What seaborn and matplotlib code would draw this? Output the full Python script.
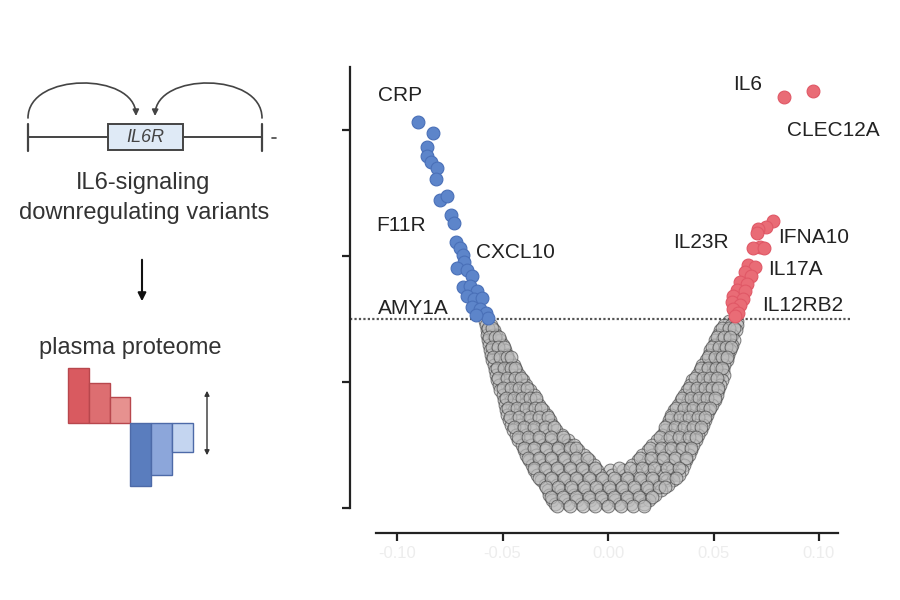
import matplotlib.pyplot as plt
import seaborn as sns
import pandas as pd
from matplotlib.patches import FancyArrowPatch, Rectangle
from matplotlib.path import Path

sns.set_style('ticks')
plt.rcParams['font.family'] = ['Liberation Sans', 'DejaVu Sans']

# proteins lowered by the IL6R variants (beta, -log10 p)
blue_beta = [-0.0900, -0.0829, -0.0858, -0.0858, -0.0839, -0.0810, -0.0815, -0.0796,
             -0.0763, -0.0744, -0.0730, -0.0720, -0.0701, -0.0687, -0.0683, -0.0716,
             -0.0668, -0.0645, -0.0687, -0.0654, -0.0621, -0.0668, -0.0635, -0.0597,
             -0.0645, -0.0607, -0.0578, -0.0569, -0.0626]
blue_logp = [6.13, 5.95, 5.73, 5.59, 5.49, 5.40, 5.22, 4.89,
             4.95, 4.65, 4.52, 4.22, 4.13, 4.02, 3.90, 3.81,
             3.78, 3.68, 3.51, 3.52, 3.44, 3.37, 3.32, 3.33,
             3.19, 3.16, 3.10, 3.02, 3.06]

# proteins raised
red_beta = [0.0834, 0.0972, 0.0782, 0.0749, 0.0711, 0.0706, 0.0720, 0.0687,
            0.0739, 0.0664, 0.0697, 0.0649, 0.0678, 0.0626, 0.0659, 0.0611,
            0.0649, 0.0593, 0.0640, 0.0588, 0.0626, 0.0593, 0.0616, 0.0602]
red_logp = [6.52, 6.62, 4.56, 4.46, 4.43, 4.37, 4.14, 4.13,
            4.13, 3.86, 3.83, 3.75, 3.68, 3.59, 3.56, 3.46,
            3.44, 3.37, 3.32, 3.27, 3.22, 3.16, 3.10, 3.05]

# the rest, read row by row from the V
gray_logp = [2.97, 2.90, 2.82, 2.75, 2.67, 2.59, 2.51, 2.43, 2.35, 2.27, 2.19, 2.11,
             2.03, 1.95, 1.87, 1.79, 1.71, 1.63, 1.55, 1.48, 1.40, 1.32, 1.24, 1.16,
             1.08, 1.00, 0.92, 0.84, 0.76, 0.68, 0.60, 0.52, 0.44, 0.37, 0.29, 0.21,
             0.13, 0.06]
gray_beta = [
    [-0.0585, 0.0575, 0.061],
    [-0.058, -0.0555, 0.055, 0.0585, 0.061],
    [-0.0575, -0.054, 0.053, 0.057, 0.0605],
    [-0.0575, -0.0545, -0.053, 0.052, 0.0555, 0.059],
    [-0.057, -0.0535, -0.051, 0.0505, 0.054, 0.0575, 0.0595],
    [-0.0565, -0.053, -0.050, 0.050, 0.053, 0.056, 0.059],
    [-0.056, -0.0525, -0.049, 0.0485, 0.052, 0.0555, 0.058],
    [-0.0555, -0.052, -0.048, 0.048, 0.051, 0.054, 0.057],
    [-0.055, -0.051, -0.047, 0.0465, 0.050, 0.0535, 0.0565],
    [-0.054, -0.050, -0.0465, -0.0445, 0.0445, 0.048, 0.0515, 0.055],
    [-0.0535, -0.0495, -0.046, -0.0435, 0.0435, 0.047, 0.0505, 0.0545],
    [-0.053, -0.049, -0.0455, -0.042, 0.042, 0.0455, 0.049, 0.0525, 0.055],
    [-0.0525, -0.0485, -0.0445, -0.0405, 0.040, 0.044, 0.0475, 0.051, 0.054],
    [-0.0515, -0.048, -0.044, -0.0405, -0.039, 0.039, 0.0425, 0.046, 0.0495, 0.053],
    [-0.051, -0.047, -0.0435, -0.040, -0.037, 0.0375, 0.041, 0.045, 0.0485, 0.052],
    [-0.050, -0.0465, -0.043, -0.039, -0.035, 0.036, 0.0395, 0.0435, 0.047, 0.0515],
    [-0.0495, -0.046, -0.042, -0.038, -0.034, 0.0345, 0.038, 0.042, 0.046, 0.0505],
    [-0.049, -0.0455, -0.041, -0.0365, -0.0325, 0.033, 0.037, 0.041, 0.045, 0.0495],
    [-0.0485, -0.0445, -0.040, -0.0355, -0.031, 0.0315, 0.0355, 0.0395, 0.044, 0.048],
    [-0.048, -0.044, -0.039, -0.034, -0.029, 0.030, 0.034, 0.0385, 0.043, 0.047],
    [-0.047, -0.043, -0.038, -0.033, -0.0275, 0.029, 0.033, 0.037, 0.0415, 0.046],
    [-0.046, -0.0415, -0.0365, -0.0315, -0.0265, 0.028, 0.032, 0.0365, 0.041, 0.045],
    [-0.045, -0.0405, -0.0355, -0.030, -0.0245, 0.027, 0.031, 0.035, 0.0395, 0.044],
    [-0.0435, -0.039, -0.034, -0.0285, -0.022, 0.0255, 0.030, 0.034, 0.0385, 0.0425],
    [-0.0425, -0.038, -0.0325, -0.027, -0.021, -0.019, 0.023, 0.028, 0.033, 0.0375, 0.0415],
    [-0.041, -0.0365, -0.031, -0.025, -0.019, -0.016, 0.021, 0.026, 0.031, 0.036, 0.0405],
    [-0.040, -0.0355, -0.030, -0.024, -0.018, -0.014, 0.019, 0.024, 0.029, 0.034, 0.0395],
    [-0.039, -0.034, -0.028, -0.022, -0.016, -0.0115, 0.016, 0.021, 0.027, 0.0325, 0.0385],
    [-0.0375, -0.0325, -0.0265, -0.0205, -0.0145, -0.009, 0.014, 0.019, 0.025, 0.031, 0.037],
    [-0.036, -0.031, -0.025, -0.019, -0.013, -0.0065, 0.0115, 0.017, 0.023, 0.029, 0.036],
    [-0.035, -0.0295, -0.0235, -0.0175, -0.0115, -0.005, 0.001, 0.007, 0.013, 0.019,
     0.025, 0.0305, 0.035],
    [-0.0335, -0.028, -0.022, -0.016, -0.010, -0.004, 0.002, 0.008, 0.014, 0.020,
     0.026, 0.031, 0.0335],
    [-0.032, -0.026, -0.020, -0.014, -0.008, -0.002, 0.004, 0.010, 0.016, 0.022, 0.028, 0.031],
    [-0.030, -0.024, -0.018, -0.012, -0.006, 0.000, 0.006, 0.012, 0.018, 0.024, 0.0285],
    [-0.0285, -0.0225, -0.0165, -0.0105, -0.0045, 0.0015, 0.0075, 0.0135, 0.0195, 0.025],
    [-0.028, -0.022, -0.016, -0.010, -0.004, 0.002, 0.008, 0.014, 0.020, 0.0225],
    [-0.0265, -0.0205, -0.0145, -0.0085, -0.0025, 0.0035, 0.0095, 0.0155, 0.0195],
    [-0.025, -0.019, -0.013, -0.007, -0.001, 0.005, 0.011, 0.017],
]
# second pass over the same cloud, between the rows above
gray_logp_b = [2.86, 2.71, 2.55, 2.39, 2.23, 2.07, 1.91, 1.75, 1.59, 1.44, 1.28, 1.12,
               0.96, 0.80, 0.64, 0.48, 0.33, 0.17, 0.03]
gray_beta_b = [
    [-0.0568, -0.0548, 0.0540, 0.0572, 0.0598],
    [-0.0562, -0.0538, -0.0518, 0.0515, 0.0548, 0.0580],
    [-0.0552, -0.0520, -0.0495, 0.0495, 0.0528, 0.0560, 0.0582],
    [-0.0545, -0.0510, -0.0478, -0.0462, 0.0472, 0.0505, 0.0538, 0.0562],
    [-0.0528, -0.0492, -0.0458, -0.0440, 0.0440, 0.0475, 0.0510, 0.0538],
    [-0.0520, -0.0480, -0.0442, -0.0412, 0.0412, 0.0448, 0.0482, 0.0518],
    [-0.0500, -0.0462, -0.0422, -0.0385, 0.0385, 0.0420, 0.0458, 0.0495, 0.0520],
    [-0.0485, -0.0448, -0.0408, -0.0368, -0.0342, 0.0352, 0.0392, 0.0430, 0.0470, 0.0505],
    [-0.0475, -0.0432, -0.0388, -0.0345, -0.0318, 0.0322, 0.0362, 0.0405, 0.0448, 0.0485],
    [-0.0465, -0.0420, -0.0372, -0.0325, -0.0285, 0.0298, 0.0342, 0.0385, 0.0428, 0.0462],
    [-0.0448, -0.0400, -0.0350, -0.0298, -0.0255, 0.0272, 0.0318, 0.0362, 0.0405, 0.0440],
    [-0.0425, -0.0378, -0.0325, -0.0270, -0.0215, 0.0245, 0.0292, 0.0338, 0.0382, 0.0418],
    [-0.0400, -0.0350, -0.0295, -0.0238, -0.0180, -0.0150, 0.0200, 0.0250, 0.0300, 0.0350,
     0.0395],
    [-0.0380, -0.0325, -0.0268, -0.0210, -0.0150, -0.0100, 0.0150, 0.0205, 0.0260, 0.0318,
     0.0372],
    [-0.0352, -0.0298, -0.0240, -0.0182, -0.0122, -0.0060, 0.0050, 0.0105, 0.0162, 0.0220,
     0.0280, 0.0338],
    [-0.0325, -0.0268, -0.0210, -0.0150, -0.0090, -0.0030, 0.0030, 0.0090, 0.0150, 0.0210,
     0.0268, 0.0322],
    [-0.0292, -0.0235, -0.0175, -0.0115, -0.0055, 0.0005, 0.0065, 0.0125, 0.0185, 0.0242,
     0.0272],
    [-0.0272, -0.0212, -0.0152, -0.0092, -0.0032, 0.0028, 0.0088, 0.0148, 0.0208],
    [-0.0240, -0.0180, -0.0120, -0.0060, 0.0000, 0.0060, 0.0120, 0.0170],
]

threshold = 3.0
x_ticks = [-0.10, -0.05, 0.00, 0.05, 0.10]
x_tick_labels = ['-0.10', '-0.05', '0.00', '0.05', '0.10']
y_ticks = [0, 2, 4, 6]

# schematic proteome bars (up = raised, down = lowered)
proteome_up = [55, 40, 26]
proteome_down = [-63, -52, -29]
up_colors = ['#d95a60', '#dd6e71', '#e6918f']
down_colors = ['#5a7dbe', '#8ca6da', '#c4d5f0']

labels = [('CRP', -0.109, 6.54), ('F11R', -0.110, 4.48), ('CXCL10', -0.0627, 4.06),
          ('AMY1A', -0.109, 3.17), ('IL6', 0.0595, 6.73), ('CLEC12A', 0.0848, 6.00),
          ('IL23R', 0.0308, 4.21), ('IFNA10', 0.0805, 4.29), ('IL17A', 0.0760, 3.78),
          ('IL12RB2', 0.0732, 3.22)]

rows_beta = gray_beta + gray_beta_b
rows_logp = gray_logp + gray_logp_b
gray_df = pd.DataFrame({
    'beta': [b for row in rows_beta for b in row],
    'logp': [p for p, row in zip(rows_logp, rows_beta) for _ in row],
})
blue_df = pd.DataFrame({'beta': blue_beta, 'logp': blue_logp})
red_df = pd.DataFrame({'beta': red_beta, 'logp': red_logp})

fig = plt.figure(figsize=(9, 6), dpi=100)

# ---- volcano plot
ax = fig.add_axes([350 / 900, 92 / 600, 500 / 900, 441 / 600])
sns.scatterplot(data=gray_df, x='beta', y='logp', ax=ax, s=85, color='#bdbdbd',
                edgecolor='#444444', linewidth=0.75, alpha=0.65, zorder=2, clip_on=False)
ax.axhline(threshold, color='#555555', lw=1.6, ls=(0, (1, 1)), zorder=2.5)
sns.scatterplot(data=blue_df, x='beta', y='logp', ax=ax, s=85, color='#5d85ca',
                edgecolor='#4a70b8', linewidth=0.8, zorder=3)
sns.scatterplot(data=red_df, x='beta', y='logp', ax=ax, s=85, color='#e96c76',
                edgecolor='#e05866', linewidth=0.8, zorder=3)

for name, lx, ly in labels:
    ax.text(lx, ly, name, fontsize=15, color='#222222', ha='left', va='center', zorder=4)

ax.set_xlim(-0.1223, 0.1147)
ax.set_ylim(0, 7)
ax.set_xticks(x_ticks)
ax.set_xticklabels(x_tick_labels)
ax.set_yticks(y_ticks)
ax.set_yticklabels([])
ax.set_xlabel('')
ax.set_ylabel('')
sns.despine(ax=ax)
ax.spines['bottom'].set_position(('outward', 18))
ax.spines['bottom'].set_bounds(-0.110, 0.109)
for side in ['left', 'bottom']:
    ax.spines[side].set_linewidth(1.6)
    ax.spines[side].set_color('#222222')
ax.tick_params(length=6, width=1.6, color='#222222')
ax.tick_params(axis='x', labelcolor='#ededed', labelsize=12)

# ---- schematic on the left
ax0 = fig.add_axes([0, 0, 0.36, 1])
ax0.set_xlim(0, 324)
ax0.set_ylim(600, 0)
ax0.axis('off')

gene = '#444444'
ax0.plot([28, 108], [137, 137], color=gene, lw=1.4)
ax0.plot([183, 262], [137, 137], color=gene, lw=1.4)
ax0.plot([28, 28], [124, 151], color=gene, lw=1.6)
ax0.plot([262, 262], [124, 151], color=gene, lw=1.6)
ax0.plot([272, 276], [138, 138], color=gene, lw=1.2)
ax0.add_patch(Rectangle((108, 124), 75, 26, fc='#dfeaf6', ec=gene, lw=1.4))
ax0.text(145.5, 137, 'IL6R', fontsize=13, style='italic', color=gene, ha='center', va='center')

left_arc = Path([(28, 118), (28, 72), (135, 72), (136, 116)],
                [Path.MOVETO, Path.CURVE4, Path.CURVE4, Path.CURVE4])
right_arc = Path([(262, 118), (262, 72), (156, 72), (155, 116)],
                 [Path.MOVETO, Path.CURVE4, Path.CURVE4, Path.CURVE4])
for arc in [left_arc, right_arc]:
    ax0.add_patch(FancyArrowPatch(path=arc, arrowstyle='-|>', mutation_scale=9,
                                  color=gene, lw=1.2))

ax0.text(143, 183, 'IL6-signaling', fontsize=17, color='#333333', ha='center', va='center')
ax0.text(144, 213, 'downregulating variants', fontsize=17, color='#333333',
         ha='center', va='center')
ax0.add_patch(FancyArrowPatch((142, 257), (142, 304), arrowstyle='-|>', mutation_scale=12,
                              color='#111111', lw=1.5))
ax0.text(130, 348, 'plasma proteome', fontsize=17, color='#333333', ha='center', va='center')

bar_w = 20.8
up_x = [68 + bar_w * (i + 0.5) for i in range(len(proteome_up))]
down_x = [68 + bar_w * (i + 3.5) for i in range(len(proteome_down))]
ax0.bar(up_x, [-v for v in proteome_up], width=bar_w, bottom=423, color=up_colors,
        edgecolor='#b8474d', lw=1)
ax0.bar(down_x, [-v for v in proteome_down], width=bar_w, bottom=423, color=down_colors,
        edgecolor='#4d6aa8', lw=1)
ax0.add_patch(FancyArrowPatch((207, 388), (207, 458), arrowstyle='<|-|>', mutation_scale=7,
                              color='#333333', lw=1))

fig.savefig('out.png', dpi=100)
